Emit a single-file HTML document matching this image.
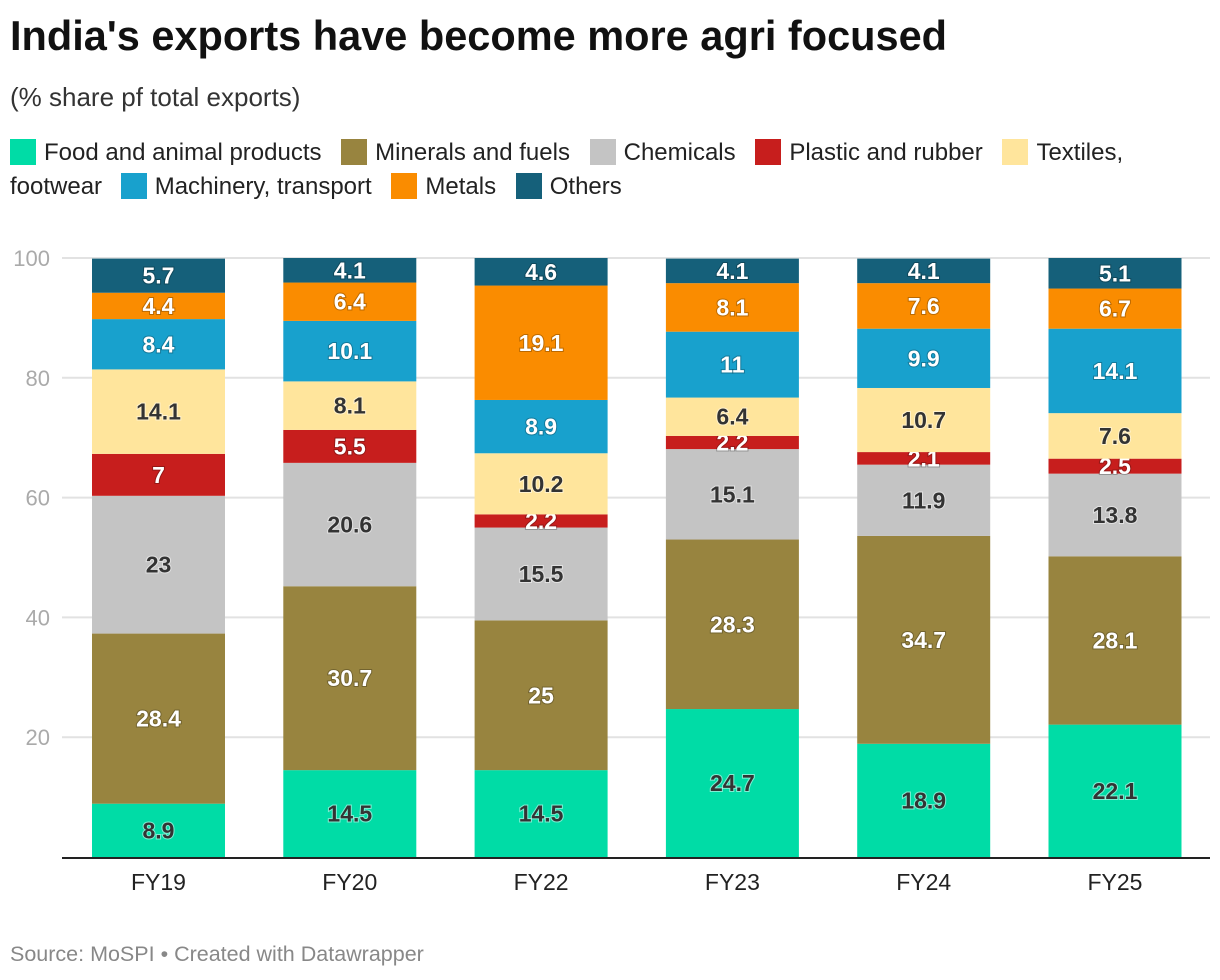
<!DOCTYPE html>
<html><head><meta charset="utf-8">
<style>
body{margin:0;background:#fff;font-family:"Liberation Sans",Arial,sans-serif;width:1220px;height:980px;overflow:hidden;position:relative}
h1{position:absolute;left:10px;top:12px;margin:0;font-size:41.5px;font-weight:bold;color:#111;letter-spacing:0px}
.sub{position:absolute;left:10px;top:82px;font-size:26px;color:#333}
.legend{position:absolute;left:10px;top:136px;width:1200px;font-size:24px;color:#222;line-height:34px}
.li{display:inline-block;margin-right:13px;white-space:nowrap}
.sw{display:inline-block;width:26px;height:26px;vertical-align:-5px;margin-right:8px}
.src{position:absolute;left:10px;top:942px;font-size:21.5px;color:#888}
svg{position:absolute;left:0;top:0}
</style></head><body>
<h1>India's exports have become more agri focused</h1>
<div class="sub">(% share pf total exports)</div>
<div class="legend">
<span class="li"><span class="sw" style="background:#00dca6"></span>Food and animal products</span>
<span class="li"><span class="sw" style="background:#98843f"></span>Minerals and fuels</span>
<span class="li"><span class="sw" style="background:#c4c4c4"></span>Chemicals</span>
<span class="li"><span class="sw" style="background:#c71e1d"></span>Plastic and rubber</span>
<span class="li" style="margin-right:0"><span class="sw" style="background:#ffe59c"></span>Textiles,</span><br>footwear
<span class="li"><span class="sw" style="background:#18a1cd;margin-left:12px"></span>Machinery, transport</span>
<span class="li"><span class="sw" style="background:#fa8c00"></span>Metals</span>
<span class="li"><span class="sw" style="background:#15607a"></span>Others</span>
</div>
<svg id="chart" width="1220" height="980"></svg>
<div class="src">Source: MoSPI • Created with Datawrapper</div>
<script>
const categories = ["FY19","FY20","FY22","FY23","FY24","FY25"];
const seriesNames = ["Food and animal products","Minerals and fuels","Chemicals","Plastic and rubber","Textiles, footwear","Machinery, transport","Metals","Others"];
const food = [8.9,14.5,14.5,24.7,18.9,22.1];
const minerals = [28.4,30.7,25,28.3,34.7,28.1];
const chemicals = [23,20.6,15.5,15.1,11.9,13.8];
const plastic = [7,5.5,2.2,2.2,2.1,2.5];
const textiles = [14.1,8.1,10.2,6.4,10.7,7.6];
const machinery = [8.4,10.1,8.9,11,9.9,14.1];
const metals = [4.4,6.4,19.1,8.1,7.6,6.7];
const others = [5.7,4.1,4.6,4.1,4.1,5.1];
const yTicks = [20,40,60,80,100];

const series=[food,minerals,chemicals,plastic,textiles,machinery,metals,others];
const colors=["#00dca6","#98843f","#c4c4c4","#c71e1d","#ffe59c","#18a1cd","#fa8c00","#15607a"];
const darkText=[true,false,true,false,true,false,false,false];
const keys=["food","minerals","chemicals","plastic","textiles","machinery","metals","others"];
const svg=document.getElementById('chart');
const NS="http://www.w3.org/2000/svg";
const y0=857, y100=258, xL=62, xR=1210;
const y=v=>y0-(v/100)*(y0-y100);
const step=191.3, bw=133, x0=92;
const x=i=>x0+i*step;
function mk(t,a){const e=document.createElementNS(NS,t);for(const k in a)e.setAttribute(k,a[k]);svg.appendChild(e);return e;}
yTicks.forEach(t=>{
  const g=mk('line',{x1:xL,x2:xR,y1:y(t),y2:y(t),stroke:'#e2e2e2','stroke-width':2});
  
  
  const l=mk('text',{x:50,y:y(t)+8,'text-anchor':'end','font-size':22,fill:'#aaa'});
  l.textContent=t;
  
  
});
categories.forEach((c,i)=>{
  let cum=0;
  series.forEach((s,k)=>{
    const v=s[i];
    const r=mk('rect',{x:x(i),y:y(cum+v),width:bw,height:y(cum)-y(cum+v),fill:colors[k]});
    
    
    const t=mk('text',{x:x(i)+bw/2,y:(y(cum)+y(cum+v))/2+8,'text-anchor':'middle','font-size':23,'font-weight':'bold',fill:darkText[k]?'#333':'#fff',style:darkText[k]?'paint-order:stroke;stroke:rgba(255,255,255,0.5);stroke-width:2px':'paint-order:stroke;stroke:rgba(0,0,0,0.25);stroke-width:2px'});
    t.textContent=v;
    
    
    cum+=v;
  });
  const xl=mk('text',{x:x(i)+bw/2,y:890,'text-anchor':'middle','font-size':23,fill:'#222'});
  xl.textContent=c;
  
  
});
const ax=mk('line',{x1:xL,x2:xR,y1:y0+1,y2:y0+1,stroke:'#222','stroke-width':2});


</script>
</body></html>
